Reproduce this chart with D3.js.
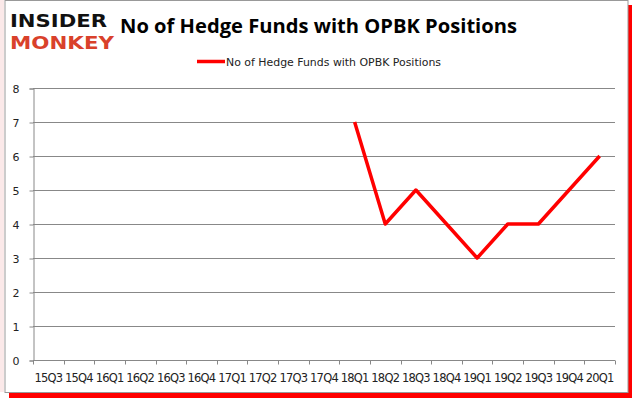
<!DOCTYPE html>
<html>
<head>
<meta charset="utf-8">
<script src="https://cdn.jsdelivr.net/npm/d3@7"></script>
<style>
  body { margin: 0; background: #fff; }
  svg { display: block; }
</style>
</head>
<body>
<svg width="635" height="405"></svg>
<script>
// quarters on the x axis
var quarters = ["15Q3","15Q4","16Q1","16Q2","16Q3","16Q4","17Q1","17Q2","17Q3","17Q4",
                "18Q1","18Q2","18Q3","18Q4","19Q1","19Q2","19Q3","19Q4","20Q1"];
// hedge fund counts, null where no data
var funds = [null,null,null,null,null,null,null,null,null,null,7,4,5,4,3,4,4,5,6];
var yTicks = [0,1,2,3,4,5,6,7,8];
var seriesName = "No of Hedge Funds with OPBK Positions";

var svg = d3.select("svg");

// outer frame with red shadow
svg.append("rect").attr("x", 9).attr("y", 5).attr("width", 623).attr("height", 393).attr("fill", "#ff0000");
svg.append("rect").attr("x", 5).attr("y", 0.5).attr("width", 623).attr("height", 392)
  .attr("fill", "#fff").attr("stroke", "#999").attr("stroke-width", 1);
svg.append("rect").attr("x", 0).attr("y", 0).attr("width", 4).attr("height", 392).attr("fill", "#fbe9e9");

var margin = {left: 33, right: 615, top: 88, bottom: 360};

var x = d3.scaleBand().domain(quarters).range([margin.left, margin.right]);
var y = d3.scaleLinear().domain([0, 8]).range([margin.bottom, margin.top]);

// gridlines
svg.append("g").selectAll("line").data(yTicks.slice(1)).enter().append("line")
  .attr("x1", margin.left).attr("x2", margin.right)
  .attr("y1", function(d){ return Math.round(y(d)) + 0.5; })
  .attr("y2", function(d){ return Math.round(y(d)) + 0.5; })
  .attr("stroke", "#888").attr("stroke-width", 1);

// y axis
var yAxis = svg.append("g").attr("transform", "translate(" + (margin.left + 0.5) + ",0.5)")
  .call(d3.axisLeft(y).tickValues(yTicks).tickSize(4).tickPadding(10));
yAxis.select(".domain").attr("stroke", "#888");
yAxis.selectAll(".tick line").attr("stroke", "#888");
yAxis.selectAll("text").attr("font-family", "DejaVu Sans").attr("font-size", 11).attr("fill", "#222");

// x axis with ticks on band edges
var xAxis = svg.append("g").attr("transform", "translate(0," + (margin.bottom + 0.5) + ")");
xAxis.append("line").attr("x1", margin.left).attr("x2", margin.right).attr("stroke", "#888");
var edges = quarters.map(function(q){ return x(q); }).concat([margin.right]);
xAxis.selectAll(".edge").data(edges).enter().append("line")
  .attr("x1", function(d){ return Math.round(d) + 0.5; })
  .attr("x2", function(d){ return Math.round(d) + 0.5; })
  .attr("y1", 0).attr("y2", 4).attr("stroke", "#888");
xAxis.selectAll("text").data(quarters).enter().append("text")
  .attr("x", function(d){ return x(d) + x.bandwidth() / 2; })
  .attr("y", 21)
  .attr("text-anchor", "middle")
  .attr("font-family", "DejaVu Sans").attr("font-size", 11.5)
  .attr("letter-spacing", -0.8)
  .attr("fill", "#222")
  .text(function(d){ return d; });

// line
var line = d3.line()
  .defined(function(d){ return d != null; })
  .x(function(d, i){ return x(quarters[i]) + x.bandwidth() / 2; })
  .y(function(d){ return y(d); });

svg.append("path").datum(funds)
  .attr("d", line)
  .attr("fill", "none")
  .attr("stroke", "#ff0000")
  .attr("stroke-width", 3.5)
  .attr("stroke-linejoin", "round");

// title
svg.append("text").attr("x", 120).attr("y", 33)
  .attr("font-family", "Open Sans").attr("font-weight", "bold").attr("font-size", 20)
  .attr("textLength", 397).attr("lengthAdjust", "spacingAndGlyphs")
  .attr("fill", "#000").text(seriesName);

// legend
svg.append("line").attr("x1", 197).attr("x2", 225).attr("y1", 61.5).attr("y2", 61.5)
  .attr("stroke", "#ff0000").attr("stroke-width", 3.5);
svg.append("text").attr("x", 226).attr("y", 65.5)
  .attr("font-family", "DejaVu Sans").attr("font-size", 11)
  .attr("textLength", 215).attr("lengthAdjust", "spacingAndGlyphs")
  .attr("fill", "#222").text(seriesName);

// logo
svg.append("text").attr("x", 10).attr("y", 27)
  .attr("font-family", "DejaVu Sans").attr("font-weight", "bold").attr("font-size", 18)
  .attr("textLength", 97).attr("lengthAdjust", "spacingAndGlyphs")
  .attr("fill", "#111").text("INSIDER");
svg.append("text").attr("x", 10).attr("y", 49)
  .attr("font-family", "DejaVu Sans").attr("font-weight", "bold").attr("font-size", 18)
  .attr("textLength", 104).attr("lengthAdjust", "spacingAndGlyphs")
  .attr("fill", "#d9412b").text("MONKEY");
</script>
</body>
</html>
